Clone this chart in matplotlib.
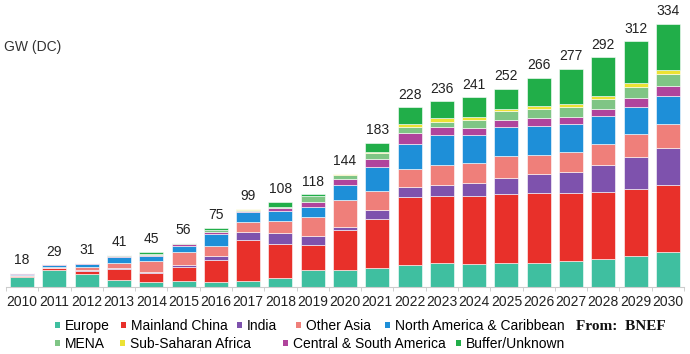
import matplotlib
matplotlib.use("Agg")
import matplotlib.pyplot as plt
from matplotlib.patches import Patch
import numpy as np

plt.rcParams['font.family'] = ['Liberation Sans', 'DejaVu Sans']

years = [str(y) for y in range(2010, 2031)]
totals = [18, 29, 31, 41, 45, 56, 75, 99, 108, 118, 144, 183, 228, 236, 241, 252, 266, 277, 292, 312, 334]

europe = [13, 21, 16.5, 9, 6, 8, 6, 7, 12, 21, 21, 24.5, 28, 30.5, 29.5, 30.5, 31, 33, 36, 40, 44]
china = [1, 2.5, 3.5, 13.5, 11.5, 18, 28, 53, 43, 32, 51, 62, 86, 85.5, 86, 87.5, 88, 86, 85, 85, 86]
india = [0.5, 0.5, 1, 1, 1, 2, 6, 10, 13, 12, 4, 11.5, 13, 14, 16, 21, 24, 27, 34, 40, 47]
other_asia = [1, 2, 4, 7.5, 14, 16, 12.5, 12, 16, 24, 35, 24.5, 23, 24.5, 25.5, 28, 24.5, 25, 26, 29, 30]
north_america = [1.5, 2.5, 4, 7.5, 7, 8.5, 15, 13, 13, 12, 18, 30, 32, 38, 36, 36, 37, 36, 36, 35, 36]
cs_america = [0.5, 0.5, 1, 1, 1, 1.5, 2.5, 2, 3, 7, 8, 10.5, 13.5, 10.5, 9.5, 9.5, 10.5, 9, 9, 11, 12]
mena = [0.5, 0, 0.5, 1, 1, 1.5, 2, 1, 1.5, 7, 5.5, 7.5, 7.5, 7, 9, 10.5, 10.5, 12, 13, 14, 16]
ssa = [0, 0, 0.5, 0.5, 0.5, 0.5, 0.5, 0.5, 0.5, 1, 0.5, 1, 4, 4.5, 4, 3.5, 4, 4, 4, 5, 4]

series_names = ["Europe", "Mainland China", "India", "Other Asia",
                "North America & Caribbean", "Central & South America",
                "MENA", "Sub-Saharan Africa"]
series_vals = [europe, china, india, other_asia, north_america, cs_america, mena, ssa]
# Buffer/Unknown fills the remainder up to the labelled total
buffer_unknown = list(np.array(totals) - np.sum(np.array(series_vals), axis=0))
series_names.append("Buffer/Unknown")
series_vals.append(buffer_unknown)

colors = {
    "Europe": "#3fbfa0",
    "Mainland China": "#e8302a",
    "India": "#7e52ad",
    "Other Asia": "#ef7f7a",
    "North America & Caribbean": "#1e8fd8",
    "Central & South America": "#b0449c",
    "MENA": "#7fc585",
    "Sub-Saharan Africa": "#ece234",
    "Buffer/Unknown": "#21ae49",
}

W, H = 690, 354
fig = plt.figure(figsize=(W / 100, H / 100), dpi=100)
ax = fig.add_axes([6 / W, (H - 287) / H, 678 / W, 287 / H])

x = np.arange(len(years))
bottom = np.zeros(len(years))
for name, vals in zip(series_names, series_vals):
    v = np.array(vals, dtype=float)
    ax.bar(x, v, width=0.74, bottom=bottom, color=colors[name],
           edgecolor='white', linewidth=0.4, label=name)
    bottom += v

for xi, t in zip(x, totals):
    ax.annotate(str(t), (xi, t), xytext=(0, 4), textcoords='offset points',
                ha='center', va='bottom', fontsize=10, color='#222222')

ax.set_xlim(-0.5, len(years) - 0.5)
ax.set_ylim(0, 287 / 0.7874)
ax.set_xticks(x)
ax.set_xticklabels(years, fontsize=10, color='#222222')
ax.set_xticks(np.arange(-0.5, len(years), 1.0), minor=True)
ax.tick_params(axis='x', which='major', length=0, pad=6)
ax.tick_params(axis='x', which='minor', length=3, color='#c8c8c8')
ax.set_yticks([])
for s in ['top', 'right', 'left']:
    ax.spines[s].set_visible(False)
ax.spines['bottom'].set_color('#cccccc')

fig.text(4 / W, 1 - 47 / H, "GW (DC)", fontsize=10, color='#333333', va='center', ha='left')

# legend: two rows, each item placed at its own x position
row1 = [("Europe", 55), ("Mainland China", 121), ("India", 237),
        ("Other Asia", 296), ("North America & Caribbean", 385)]
row2 = [("MENA", 55), ("Sub-Saharan Africa", 120), ("Central & South America", 283),
        ("Buffer/Unknown", 456)]
leg_kw = dict(frameon=False, fontsize=10, handlelength=0.35, handleheight=0.35,
              handletextpad=0.35, borderpad=0, borderaxespad=0, loc='center left')
for row, ypx in ((row1, 326), (row2, 344)):
    for name, xpx in row:
        fig.legend([Patch(facecolor=colors[name], edgecolor='none')], [name],
                   bbox_to_anchor=(xpx / W, 1 - ypx / H), **leg_kw)

fig.text(576 / W, 1 - 326 / H, "From:  BNEF", fontsize=11, fontweight='bold',
         family='Liberation Serif', va='center', ha='left', color='#111111')

fig.savefig("out.png", dpi=100)
